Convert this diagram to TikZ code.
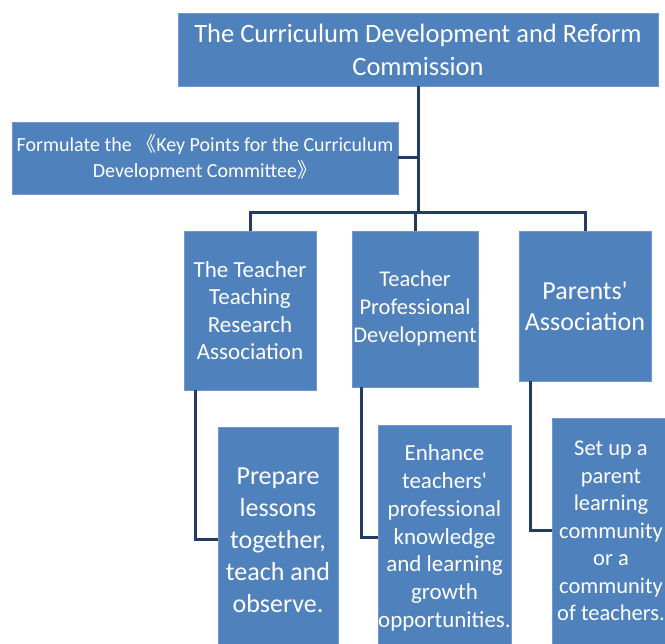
\documentclass[tikz,border=0pt]{standalone}
\usepackage{fontspec}
\setmainfont{Carlito}
\newfontfamily\cjk{Noto Sans CJK SC}
\usepackage{xcolor}
\usetikzlibrary{positioning,calc}
\definecolor{boxblue}{RGB}{79,129,189}
\definecolor{boxedge}{RGB}{112,152,206}
\definecolor{linknavy}{RGB}{36,60,96}

\begin{document}
\begin{tikzpicture}[x=1pt, y=-1pt,
    box/.style={fill=boxblue, draw=boxedge, line width=0.8pt, text=white, align=center, inner xsep=0pt, inner ysep=2pt},
    link/.style={draw=linknavy, line width=3pt}]
    \useasboundingbox (0,0) rectangle (665,644);

    % Commission and its task
    \node[box, minimum width=480pt, minimum height=73pt, font=\fontsize{26.5}{33}\selectfont]
        (commission) at (418,49.5) {The Curriculum Development and Reform\\Commission};
    \node[box, minimum width=386pt, minimum height=72pt, font=\fontsize{20}{26}\selectfont]
        (keypoints) at (205,158) {Formulate the {\cjk 《}Key Points for the Curriculum\\Development Committee{\cjk 》}};

    % Three bodies
    \node[box, minimum width=132pt, minimum height=159pt, font=\fontsize{23}{27.5}\selectfont]
        (research) at (250,310.5) {The Teacher\\Teaching\\Research\\Association};
    \node[box, minimum width=126pt, minimum height=156pt, font=\fontsize{22.5}{28}\selectfont]
        (profdev) at (415,309) {Teacher\\Professional\\Development};
    \node[box, minimum width=132pt, minimum height=150pt, font=\fontsize{26}{31}\selectfont]
        (parents) at (585,306) {Parents\textquotesingle\\Association};

    % Their tasks
    \node[box, minimum width=120pt, minimum height=226pt, font=\fontsize{26}{32}\selectfont]
        (prepare) at (278,540) {Prepare\\lessons\\together,\\teach and\\observe.};
    \node[box, minimum width=133pt, minimum height=226pt, font=\fontsize{23}{27.8}\selectfont]
        (enhance) at (444.5,538) {Enhance\\teachers\textquotesingle\\professional\\knowledge\\and learning\\growth\\opportunities.};
    \node[box, minimum width=118pt, minimum height=226pt, font=\fontsize{22.5}{27.5}\selectfont]
        (setup) at (611,531) {Set up a\\parent\\learning\\community\\or a\\community\\of teachers.};

    % Tree lines
    \coordinate (bar) at (418,213);
    \draw[link] (commission.south) -- (bar);
    \draw[link] (keypoints.east) -- (keypoints.east -| bar);
    \draw[link] (research.north) -- (research.north |- bar) -- (parents.north |- bar) -- (parents.north);
    \draw[link] (profdev.north |- bar) -- (profdev.north);

    % Elbows to the tasks
    \draw[link] ([xshift=12pt]research.south west) |- (prepare.west);
    \draw[link] ([xshift=10pt]profdev.south west) |- (enhance.west);
    \draw[link] ([xshift=12pt]parents.south west) |- (setup.west);
\end{tikzpicture}
\end{document}
